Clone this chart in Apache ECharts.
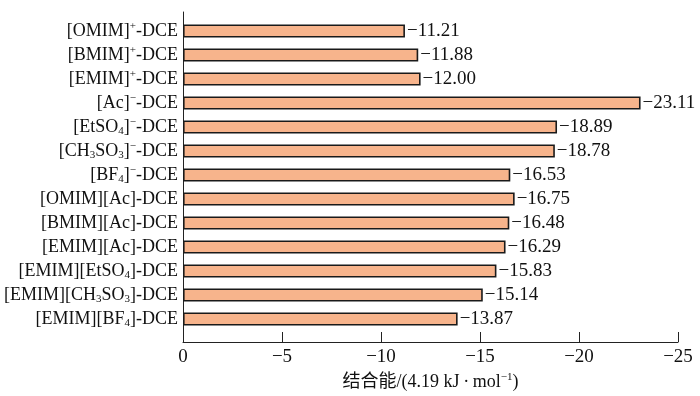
<!DOCTYPE html>
<html><head><meta charset="utf-8">
<script src="https://cdn.jsdelivr.net/npm/echarts@6/dist/echarts.min.js"></script>
<style>html,body{margin:0;padding:0;background:#fff}#c{width:700px;height:396px}</style>
</head><body><div id="c"></div>
<script>
var categories = [
  '[OMIM]{sup|+}-DCE',
  '[BMIM]{sup|+}-DCE',
  '[EMIM]{sup|+}-DCE',
  '[Ac]{sup|\u2212}-DCE',
  '[EtSO{sub|4}]{sup|\u2212}-DCE',
  '[CH{sub|3}SO{sub|3}]{sup|\u2212}-DCE',
  '[BF{sub|4}]{sup|\u2212}-DCE',
  '[OMIM][Ac]-DCE',
  '[BMIM][Ac]-DCE',
  '[EMIM][Ac]-DCE',
  '[EMIM][EtSO{sub|4}]-DCE',
  '[EMIM][CH{sub|3}SO{sub|3}]-DCE',
  '[EMIM][BF{sub|4}]-DCE'
];
var bindingEnergy = [-11.21, -11.88, -12.00, -23.11, -18.89, -18.78, -16.53, -16.75, -16.48, -16.29, -15.83, -15.14, -13.87];
var xTicks = [0, -5, -10, -15, -20, -25];
var axisName = '结合能/(4.19 kJ\u2009·\u2009mol{sup|\u22121})';

var FONT = '"Liberation Serif", "Noto Sans CJK SC", serif';
var richStyles = {
  sup: {fontFamily: FONT, fontSize: 11, color: '#111', padding: [0, 0, 9, 0]},
  sub: {fontFamily: FONT, fontSize: 11, color: '#111', padding: [9, 0, 0, 0]}
};
function fmt(v){ return (v < 0 ? '\u2212' : '') + Math.abs(v).toFixed(2); }

var chart = echarts.init(document.getElementById('c'), null, {renderer: 'canvas'});
chart.setOption({
  animation: false,
  grid: [
    {left: 183, right: 22, top: 19, bottom: 65},
    {left: 183, right: 22, top: 12, bottom: 53}
  ],
  xAxis: [
    {gridIndex: 0, type: 'value', min: -25, max: 0, inverse: true, show: false, splitLine: {show: false}},
    {gridIndex: 1, type: 'value', min: -25, max: 0, interval: 5, inverse: true,
     axisLine: {show: true, lineStyle: {color: '#222', width: 1}},
     axisTick: {show: true, inside: true, length: 10, lineStyle: {color: '#222', width: 1}},
     splitLine: {show: false},
     axisLabel: {margin: 6, color: '#111', fontFamily: FONT, fontSize: 19,
       formatter: function(v){ return v === 0 ? '0' : '\u2212' + Math.abs(v); }},
     name: axisName, nameLocation: 'middle', nameGap: 30,
     nameTextStyle: {color: '#111', fontFamily: FONT, fontSize: 18, rich: richStyles}
    }
  ],
  yAxis: [
    {gridIndex: 0, type: 'category', data: categories, inverse: true,
     axisLine: {show: false}, axisTick: {show: false},
     axisLabel: {margin: 5, color: '#111', fontFamily: FONT, fontSize: 18, rich: richStyles}},
    {gridIndex: 1, type: 'value', min: 0, max: 1,
     axisLine: {show: true, lineStyle: {color: '#222', width: 1}},
     axisTick: {show: false}, axisLabel: {show: false}, splitLine: {show: false}}
  ],
  series: [{
    type: 'bar', xAxisIndex: 0, yAxisIndex: 0,
    data: bindingEnergy,
    barWidth: 13,
    itemStyle: {color: '#F7B48C', borderColor: '#1a1a1a', borderWidth: 1.6},
    label: {show: true, position: 'right', distance: 2, color: '#111', fontFamily: FONT, fontSize: 19,
      formatter: function(p){ return fmt(p.value); }}
  }]
});
</script></body></html>
